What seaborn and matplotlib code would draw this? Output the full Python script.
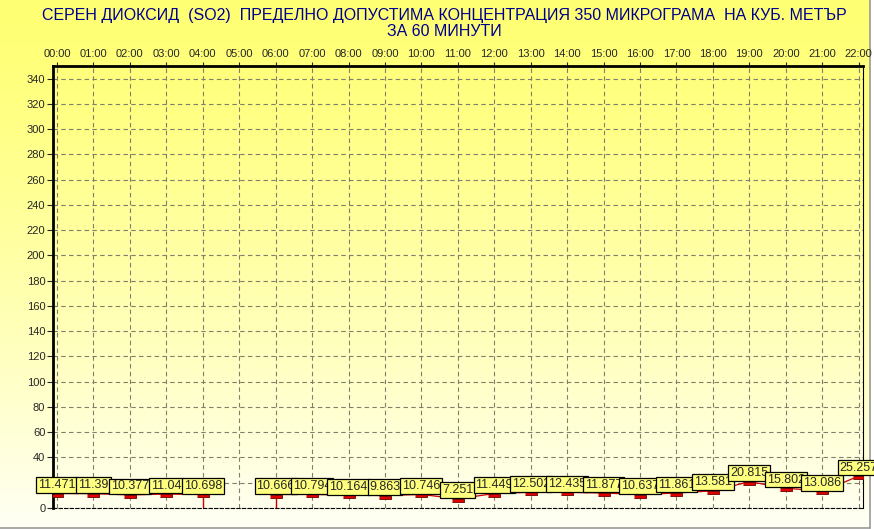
import numpy as np
import pandas as pd
import matplotlib
matplotlib.use("Agg")
import matplotlib.pyplot as plt
import seaborn as sns

hours = ["00:00", "01:00", "02:00", "03:00", "04:00", "05:00", "06:00", "07:00",
         "08:00", "09:00", "10:00", "11:00", "12:00", "13:00", "14:00", "15:00",
         "16:00", "17:00", "18:00", "19:00", "20:00", "21:00", "22:00"]
labels = ["11.471", "11.39", "10.377", "11.04", "10.698", "", "10.666", "10.794",
          "10.164", "9.863", "10.746", "7.251", "11.449", "12.502", "12.435", "11.877",
          "10.637", "11.861", "13.581", "20.815", "15.802", "13.086", "25.257"]
so2 = [float(s) if s else np.nan for s in labels]
y_ticks = list(range(0, 341, 20))
# the "20" label is hidden behind the value boxes in the original
y_labels = ["" if t == 20 else str(t) for t in y_ticks]

df = pd.DataFrame({"pos": range(len(hours)), "value": so2})
df["seg"] = df["value"].isna().cumsum()
pts = df.dropna()

title = ("СЕРЕН ДИОКСИД  (SO2)  ПРЕДЕЛНО ДОПУСТИМА КОНЦЕНТРАЦИЯ 350 МИКРОГРАМА  НА КУБ. МЕТЪР\n"
         "ЗА 60 МИНУТИ")

sns.set_style("white")
plt.rcParams["font.family"] = ["Liberation Sans", "DejaVu Sans"]

fig = plt.figure(figsize=(8.74, 5.29), dpi=100)

# yellow gradient background
bg = fig.add_axes([0, 0, 1, 1], zorder=-5)
grad = np.linspace(0, 1, 256)[:, None] ** 1.3
top_c = np.array([255, 255, 115]) / 255
bot_c = np.array([255, 255, 245]) / 255
img = top_c + (bot_c - top_c) * grad[:, :, None]
bg.imshow(np.repeat(img, 2, axis=1), aspect="auto", extent=[0, 1, 0, 1])
bg.set_xlim(0, 1)
bg.set_ylim(0, 1)
bg.axis("off")
bg.plot([870 / 874, 870 / 874], [1 - 528 / 529, 1], color="#9a9a9a", lw=1.2)
bg.plot([0, 870 / 874], [1 - 528 / 529, 1 - 528 / 529], color="#9a9a9a", lw=1.2)
bg.fill_between([871 / 874, 1], 0, 1, color="white")

ax = fig.add_axes([53 / 874, 1 - 508 / 529, 810 / 874, 442 / 529])
ax.patch.set_alpha(0)

sns.lineplot(data=df.dropna(), x="pos", y="value", units="seg", estimator=None,
             color="#d00000", lw=0.9, ax=ax, zorder=3)
rect = [(-1, 0.0), (1, 0.0), (1, -0.55), (-1, -0.55)]
sns.scatterplot(data=pts, x="pos", y="value", marker=rect, s=75, color="#e00000",
                edgecolor="#700000", linewidth=0.6, ax=ax, zorder=4)

# drop lines at the edges of the gap
gap = df.index[df["value"].isna()]
edges = [gap.min() - 1, gap.max() + 1]
ax.vlines(edges, 0, df.loc[edges, "value"], color="#d00000", lw=1, zorder=3)

for _, r in pts.iterrows():
    ax.annotate(labels[int(r["pos"])], (r["pos"], r["value"]), xytext=(0, 1.8),
                textcoords="offset points", ha="center", va="bottom", fontsize=9,
                annotation_clip=False, zorder=6,
                bbox=dict(boxstyle="square,pad=0.15", fc="#ffff80", ec="black", lw=0.9))

ax.set_xlim(-0.11, 22.12)
ax.set_ylim(0, 350)
ax.set_xticks(range(len(hours)))
ax.set_xticklabels(hours)
ax.set_yticks(y_ticks)
ax.set_yticklabels(y_labels)
ax.xaxis.tick_top()
ax.tick_params(axis="x", length=3, pad=2, labelsize=8, top=True, bottom=False)
ax.tick_params(axis="y", length=4.5, pad=1, labelsize=8, left=True)
ax.set_xlabel("")
ax.set_ylabel("")
ax.grid(True, color="#807f6a", linestyle=(0, (4, 3)), lw=0.8)
ax.set_axisbelow(True)

ax.spines["left"].set_linewidth(2)
ax.spines["top"].set_linewidth(2)
ax.spines["right"].set_linewidth(0.8)
ax.spines["bottom"].set_linewidth(0.8)
ax.spines["bottom"].set_linestyle((0, (3, 2)))
for s in ax.spines.values():
    s.set_color("black")

fig.text(0.508, 1 - 8 / 529, title, ha="center", va="top", color="#000090",
         fontsize=11.5, linespacing=1.1)

fig.savefig("out.png", dpi=100)
